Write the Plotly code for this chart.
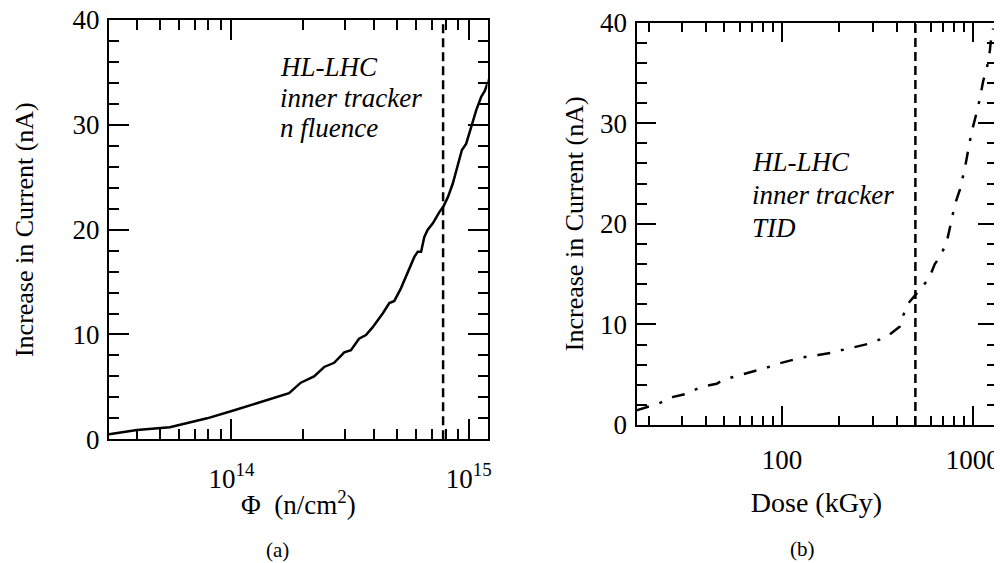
import math
import plotly.graph_objects as go

# ---------------- data ----------------
fluence = [3.05e13, 4.0e13, 5.5e13, 7.9e13, 1.02e14, 1.5e14, 1.75e14, 1.96e14, 2.23e14,
           2.46e14, 2.71e14, 2.99e14, 3.19e14, 3.45e14, 3.69e14, 3.94e14, 4.34e14, 4.63e14,
           4.86e14, 5.18e14, 5.44e14, 5.9e14, 6.1e14, 6.3e14, 6.5e14, 6.72e14, 7.06e14,
           7.53e14, 7.82e14, 8.17e14, 8.57e14, 9.0e14, 9.36e14, 9.76e14, 1.025e15, 1.076e15,
           1.13e15, 1.167e15, 1.22e15]
current_fluence = [0.48, 0.89, 1.15, 2.0, 2.75, 3.9, 4.4, 5.4, 6.0, 6.9, 7.3, 8.3, 8.5, 9.6,
                   9.95, 10.7, 12.0, 13.0, 13.2, 14.4, 15.5, 17.4, 17.9, 17.9, 19.3, 20.0,
                   20.6, 21.7, 22.2, 23.1, 24.4, 26.2, 27.6, 28.2, 29.8, 31.4, 32.7, 33.2, 34.4]

dose = [17.3, 23, 27, 31.7, 37.2, 45.5, 49.3, 59.1, 70.8, 83.2, 95.7, 114.7, 126.7, 154.9,
        185.7, 201, 246, 289, 326, 367, 415, 432, 459, 507, 539, 590, 632, 671, 728, 758,
        805, 855, 908, 945, 985, 1045, 1088, 1133, 1180, 1228, 1254, 1277]
current_dose = [1.45, 2.2, 2.8, 3.1, 3.75, 4.1, 4.5, 4.9, 5.35, 5.7, 6.1, 6.45, 6.7, 6.95,
                7.2, 7.4, 7.75, 8.1, 8.5, 9.0, 9.8, 10.9, 12.1, 13.0, 13.65, 14.6, 16.0,
                16.7, 18.1, 19.6, 21.9, 23.4, 25.5, 27.3, 29.1, 31.0, 32.4, 34.2, 35.3,
                37.2, 38.9, 39.4]

hl_lhc_fluence = 7.8e14
hl_lhc_dose = 500
y_limits = [0, 40]

fluence_major = [1e14, 1e15]
fluence_major_text = ["10<sup>14</sup>", "10<sup>15</sup>"]
fluence_minor = [4e13, 5e13, 6e13, 7e13, 8e13, 9e13] + [k * 1e14 for k in range(2, 10)]
dose_major = [100, 1000]
dose_major_text = ["100", "1000"]
dose_minor = [20, 30, 40, 50, 60, 70, 80, 90] + [k * 100 for k in range(2, 10)]
y_major = [0, 10, 20, 30, 40]
y_minor = [v for v in range(0, 41, 2) if v % 10 != 0]

left_note = ["HL-LHC", "inner tracker", "n fluence"]
right_note = ["HL-LHC", "inner tracker", "TID"]

# ---------------- figure ----------------
FONT = "Liberation Serif"
OFF = 8                      # page body margin
W, H = 1002 - OFF, 563 - OFF


def fx(px):
    return (px - OFF) / W


def fy(py):
    return 1 - (py - OFF) / H


fig = go.Figure()
fig.add_trace(go.Scatter(x=fluence, y=current_fluence, mode="lines",
                         line=dict(color="black", width=2.5), xaxis="x", yaxis="y",
                         showlegend=False))
fig.add_trace(go.Scatter(x=[hl_lhc_fluence, hl_lhc_fluence], y=y_limits, mode="lines",
                         line=dict(color="black", width=2.5, dash="9px,5px"),
                         xaxis="x", yaxis="y", showlegend=False))
fig.add_trace(go.Scatter(x=dose, y=current_dose, mode="lines",
                         line=dict(color="black", width=2.5, dash="13px,11px,3px,11px"),
                         xaxis="x2", yaxis="y2", showlegend=False))
fig.add_trace(go.Scatter(x=[hl_lhc_dose, hl_lhc_dose], y=y_limits, mode="lines",
                         line=dict(color="black", width=2.5, dash="9px,5px"),
                         xaxis="x2", yaxis="y2", showlegend=False))

common = dict(showline=True, linecolor="black", linewidth=2, mirror="ticks",
              ticks="inside", tickcolor="black", tickwidth=2, showgrid=False,
              zeroline=False, automargin=False, ticklabeloverflow="allow",
              tickfont=dict(family=FONT, size=27, color="black"))

xa = dict(common, type="log", domain=[fx(109), fx(487.5)],
          range=[math.log10(3.05e13), math.log10(1.2e15)],
          tickmode="array", tickvals=fluence_major, ticktext=fluence_major_text,
          ticklen=20, ticklabelstandoff=14,
          minor=dict(tickmode="array", tickvals=fluence_minor, ticks="inside",
                     ticklen=10, tickwidth=2, tickcolor="black"),
          anchor="y")
ya = dict(common, domain=[fy(439.3), fy(20)], range=y_limits,
          tickmode="array", tickvals=y_major, ticklen=20, ticklabelstandoff=2,
          minor=dict(tickmode="array", tickvals=y_minor, ticks="inside",
                     ticklen=10, tickwidth=2, tickcolor="black"),
          title=dict(text="Increase in Current (nA)", standoff=31,
                     font=dict(family=FONT, size=26, color="black")),
          anchor="x")
xa2 = dict(common, type="log", domain=[fx(636.5), fx(996.5)],
           range=[math.log10(17.3), math.log10(1330)],
           tickmode="array", tickvals=dose_major, ticktext=dose_major_text,
           ticklen=19, ticklabelstandoff=10,
           minor=dict(tickmode="array", tickvals=dose_minor, ticks="inside",
                      ticklen=9, tickwidth=2, tickcolor="black"),
           title=dict(text="Dose (kGy)", standoff=18,
                      font=dict(family=FONT, size=28, color="black")),
           anchor="y2")
ya2 = dict(common, domain=[fy(425), fy(22.5)], range=y_limits,
           tickmode="array", tickvals=y_major, ticklen=19, ticklabelstandoff=2,
           minor=dict(tickmode="array", tickvals=y_minor, ticks="inside",
                      ticklen=10, tickwidth=2, tickcolor="black"),
           title=dict(text="Increase in Current (nA)", standoff=9,
                      font=dict(family=FONT, size=26, color="black")),
           anchor="x2")

annotations = []
for txt, yc in zip(left_note, [67, 98, 128]):
    annotations.append(dict(text="<i>" + txt + "</i>", xref="paper", yref="paper",
                            x=fx(278), y=fy(yc), xanchor="left", yanchor="middle",
                            showarrow=False, font=dict(family=FONT, size=27, color="black")))
for txt, yc in zip(right_note, [162, 195, 228]):
    annotations.append(dict(text="<i>" + txt + "</i>", xref="paper", yref="paper",
                            x=fx(750), y=fy(yc), xanchor="left", yanchor="middle",
                            showarrow=False, font=dict(family=FONT, size=27, color="black")))
annotations += [
    dict(text="Φ\u00a0\u00a0(n/cm<sup>2</sup>)", xref="paper", yref="paper",
         x=fx(298), y=fy(503), xanchor="center", yanchor="middle", showarrow=False,
         font=dict(family=FONT, size=27, color="black")),
    dict(text="(a)", xref="paper", yref="paper", x=fx(277), y=fy(550),
         xanchor="center", yanchor="middle", showarrow=False,
         font=dict(family=FONT, size=21, color="black")),
    dict(text="(b)", xref="paper", yref="paper", x=fx(802), y=fy(549),
         xanchor="center", yanchor="middle", showarrow=False,
         font=dict(family=FONT, size=21, color="black")),
]

fig.update_layout(width=W, height=H, margin=dict(l=0, r=0, t=0, b=0),
                  paper_bgcolor="white", plot_bgcolor="white",
                  xaxis=xa, yaxis=ya, xaxis2=xa2, yaxis2=ya2,
                  annotations=annotations, showlegend=False,
                  font=dict(family=FONT, color="black"))

fig.write_html("out.html")
